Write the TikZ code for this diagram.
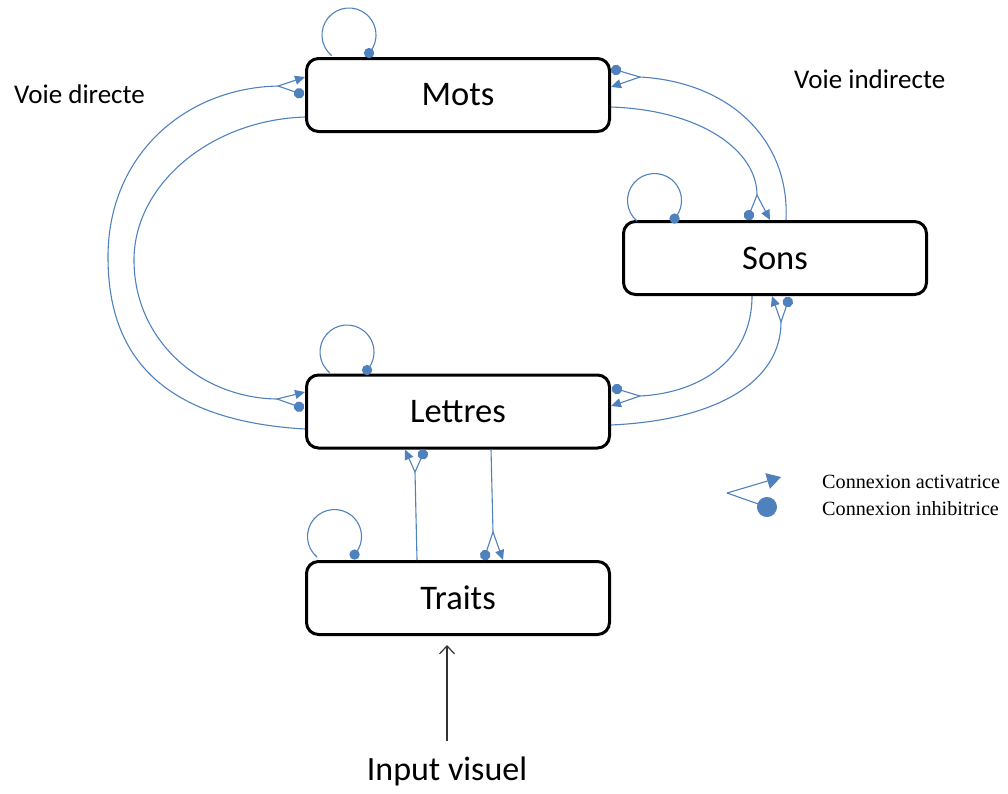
\documentclass[tikz,border=0pt]{standalone}
\usepackage{fontspec}
\setmainfont{Carlito}
\newfontfamily\legendfont{Liberation Serif}
\usetikzlibrary{arrows.meta,calc}
\definecolor{conblue}{RGB}{79,129,189}
\begin{document}
\begin{tikzpicture}[x=1pt,y=-1pt,
  box/.style={draw=black, line width=3pt, rounded corners=12pt, fill=white,
    minimum width=303pt, minimum height=73pt, inner sep=0pt, outer sep=1.5pt,
    font=\fontsize{34.5}{40}\selectfont},
  conn/.style={draw=conblue, line width=1.1pt},
  act/.style={conn, -{Triangle[length=10pt,width=9pt]}},
  inh/.style={conn, -{Circle[length=10.5pt]}},
  lbl/.style={inner sep=0pt, anchor=base west, font=\fontsize{27}{32}\selectfont},
  legtext/.style={inner sep=0pt, anchor=base west, font=\legendfont\fontsize{20.2}{24}\selectfont},
  inarrow/.style={draw=black!80, line width=1.2pt, -{Straight Barb[length=8pt,width=15pt]}}
]
\useasboundingbox (0,0) rectangle (1008,793);

% boxes
\node[box] (mots) at (458,95) {Mots};
\node[box] (sons) at (775,258) {Sons};
\node[box] (lettres) at (458,411.5) {Lettres};
\node[box] (traits) at (458,598) {Traits};

% labels
\node[lbl] (vd) at (14,103) {Voie directe};
\node[lbl] (vi) at (794,88) {Voie indirecte};
\node[inner sep=0pt, anchor=base, font=\fontsize{34}{40}\selectfont] (input) at (447,780) {Input visuel};

% fork coordinates
\coordinate (fl1) at (278,86);
\coordinate (fl2) at (277,399);
\coordinate (fr1) at (640,77);
\coordinate (fr2) at (757,195);
\coordinate (fr3) at (640,396);
\coordinate (fr4) at (781,322);
\coordinate (ft1) at (415,472);
\coordinate (ft2) at (493,532);

% self loops
\coordinate (mloop) at (349,35);
\coordinate (sloop) at (654.5,200.5);
\coordinate (lloop) at (347,352);
\coordinate (tloop) at (334.5,536.5);
\foreach \c in {mloop,sloop,lloop,tloop}{
  \draw[conn] (\c) ++(130:27) arc[start angle=130, end angle=402, radius=27];
  \fill[conblue] (\c) ++(42:27) circle[radius=5.2];
}

% 1: Lettres -> Mots (outer left)
\draw[conn] ($(lettres.west)+(0,17.5)$) .. controls (150,420) and (108,345) .. (108,257)
   .. controls (108,155) and (185,88) .. (fl1);
\draw[act] (fl1) -- ($(mots.west)+(0,-18)$);
\draw[inh] (fl1) -- ($(mots.west)+(-1,0)$);

% 2: Mots -> Lettres (inner left)
\draw[conn] ($(mots.west)+(0,22)$) .. controls (210,120) and (134,185) .. (134,260)
   .. controls (134,340) and (200,398) .. (fl2);
\draw[act] (fl2) -- ($(lettres.west)+(0,-19.5)$);
\draw[inh] (fl2) -- ($(lettres.west)+(-1,-3)$);

% 3: Sons -> Mots (outer right)
\draw[conn] ($(sons.north)+(11,0)$) .. controls (790,140) and (730,82) .. (fr1);
\draw[inh] (fr1) -- ($(mots.east)+(0,-26.5)$);
\draw[act] (fr1) -- ($(mots.east)+(0,-8)$);

% 4: Mots -> Sons (inner right)
\draw[conn] ($(mots.east)+(0,12)$) .. controls (700,110) and (757,150) .. (fr2);
\draw[inh] (fr2) -- ($(sons.north)+(-28,0)$);
\draw[act] (fr2) -- ($(sons.north)+(-5,0)$);

% 5: Sons -> Lettres (inner right)
\draw[conn] ($(sons.south)+(-23,0)$) .. controls (752,360) and (700,393) .. (fr3);
\draw[inh] (fr3) -- ($(lettres.east)+(1,-24)$);
\draw[act] (fr3) -- ($(lettres.east)+(0,-5.5)$);

% 6: Lettres -> Sons (outer right)
\draw[conn] ($(lettres.east)+(0,13.5)$) .. controls (720,420) and (781,380) .. (fr4);
\draw[inh] (fr4) -- ($(sons.south)+(14.5,1)$);
\draw[act] (fr4) -- ($(sons.south)+(-3,0)$);

% 7: Traits -> Lettres
\draw[conn] ($(traits.north)+(-41,0)$) -- (ft1);
\draw[act] (ft1) -- ($(lettres.south)+(-53,0)$);
\draw[inh] (ft1) -- ($(lettres.south)+(-33,0)$);

% 8: Lettres -> Traits
\draw[conn] ($(lettres.south)+(33,0)$) -- (ft2);
\draw[inh] (ft2) -- ($(traits.north)+(25.5,0)$);
\draw[act] (ft2) -- ($(traits.north)+(45,0)$);

% input
\draw[inarrow] ($(input.north)+(0,-15)$) -- ($(traits.south)+(-11,9)$);

% legend
\coordinate (legfork) at (727,493);
\coordinate (legact) at (781,477);
\coordinate (leginh) at (776.4,510.3);
\draw[conn, -{Triangle[length=14pt,width=16pt]}] (legfork) -- (legact);
\draw[conn, -{Circle[length=20pt]}] (legfork) -- (leginh);
\node[legtext] (legA) at (822,488) {Connexion activatrice};
\node[legtext] (legI) at (822,515) {Connexion inhibitrice};
\end{tikzpicture}
\end{document}
